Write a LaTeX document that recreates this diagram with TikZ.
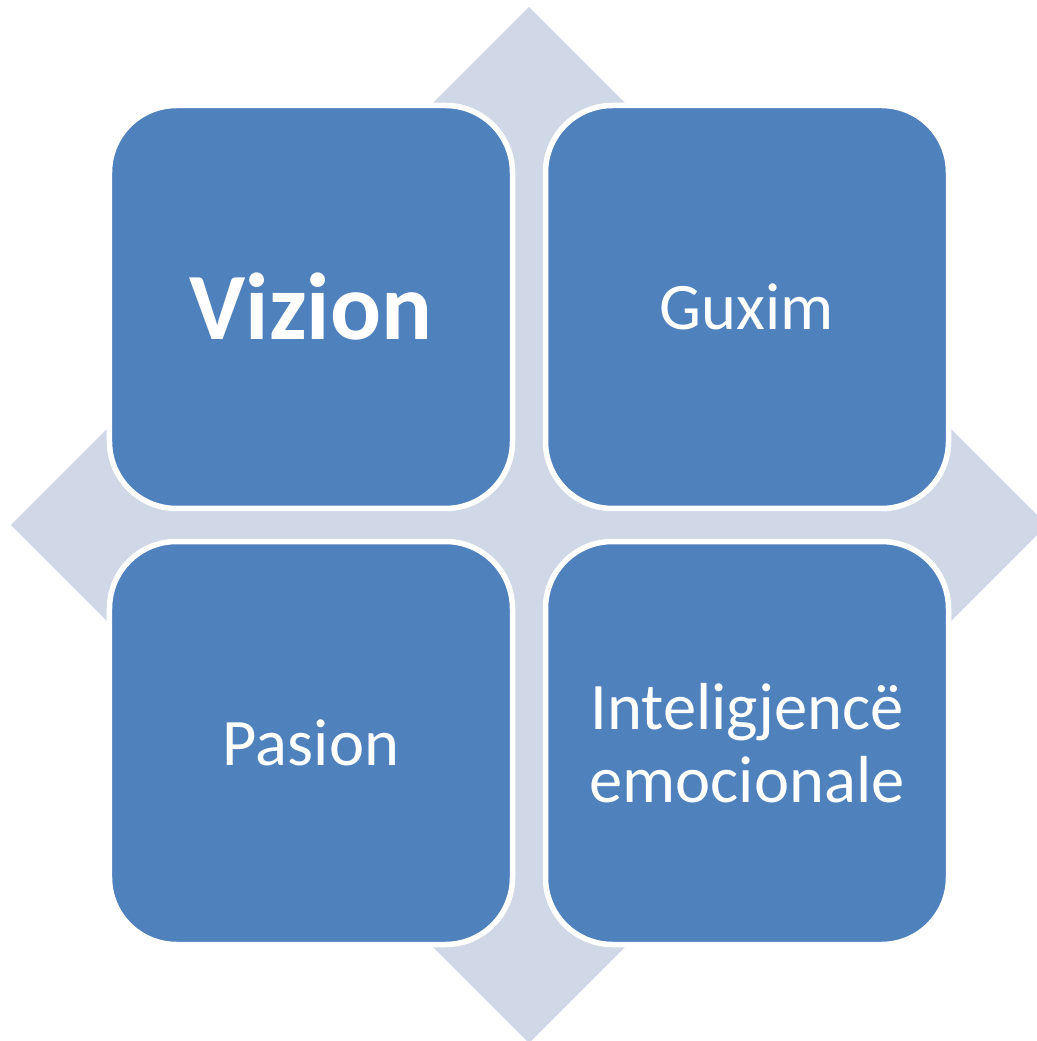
\documentclass[tikz,border=0pt]{standalone}
\usepackage{fontspec}
\setmainfont{Carlito}
\usepackage{xcolor}
\definecolor{color1}{RGB}{79, 129, 189}
\definecolor{color2}{RGB}{208, 216, 232}
\usepackage{tikz}

\begin{document}
\begin{tikzpicture}[x=1pt,y=1pt,
  box/.style={rectangle,rounded corners=67pt,fill=color1,draw=white,
    line width=5.5pt,minimum size=403pt,inner sep=0pt,text=white,
    align=center,font=\fontsize{66.5}{73}\selectfont}]
\useasboundingbox
  (-529,-516) rectangle (507,525);
\fill [color2] (0,518) -- (518,0) -- (0,-518) -- (-518,0) -- cycle;

\node [box,font=\bfseries\fontsize{95}{100}\selectfont] (vizion)
  at (-218,218) {Vizion};
\node [box] (guxim) at (218,218) {Guxim};
\node [box] (pasion) at (-218,-218) {Pasion};
\node [box] (inteligjence) at (218,-218)
  {Inteligjencë\\emocionale};
\end{tikzpicture}
\end{document}
